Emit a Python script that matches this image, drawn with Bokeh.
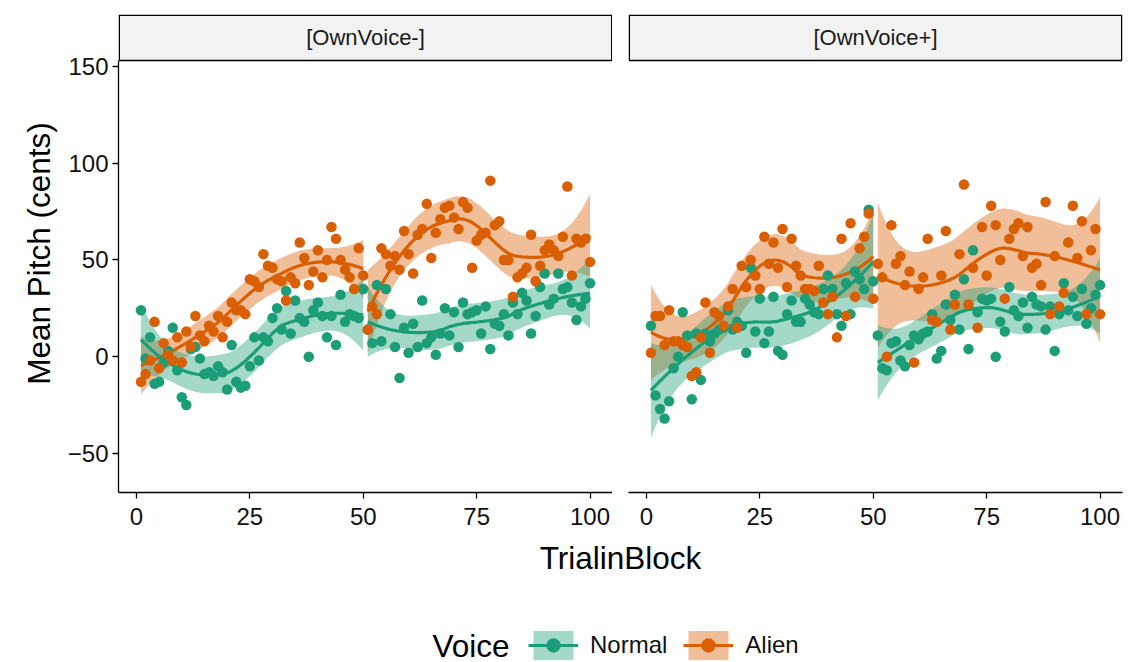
import numpy as np
from bokeh.plotting import figure
from bokeh.models import Range1d, Label, Legend, LegendItem, FixedTicker
from bokeh.layouts import row, column
from bokeh.core.properties import value
from bokeh.embed import file_html
from bokeh.resources import INLINE

FONT = "Liberation Sans"

trials = list(range(1, 101))
segments = [(1, 50), (51, 100)]
facets = ["[OwnVoice-]", "[OwnVoice+]"]
voices = ["Normal", "Alien"]
colors = {"Normal": "#1B9E77", "Alien": "#D95F02"}
x_ticks = [0, 25, 50, 75, 100]
y_ticks = [-50, 0, 50, 100, 150]

# Mean pitch (cents) per trial
left_normal = [24, -1, 10, -14, -13, -3, 3, 15, -7, -21, -25, 4, 5, -1, -9, -8, -10, -5, -8, -17,
               6, -13, -16, -15, -5, 10, -2, 10, 8, 20, 25, 14, 34, 12, 29, 20, 18, 0, 24, 28,
               21, 10, 21, 6, 32, 18, 22, 21, 20, 35,
               14, 7, 37, 8, 35, 22, 5, -11, 15, 2, 17, 5, 29, 7, 10, 1, 12, 25, 11, 23,
               5, 28, 22, 23, 24, 12, 26, 4, 17, 16, 22, 11, 28, 22, 33, 29, 12, 21, 36, 43,
               27, 30, 43, 35, 36, 28, 19, 26, 30, 38]
left_alien = [-13, -9, -2, 18, -6, 7, 1, -2, 10, -3, 13, 5, 21, 11, 8, 16, 13, 21, 10, 18,
              28, 24, 24, 22, 40, 39, 36, 53, 47, 46, 40, 39, 29, 41, 38, 59, 51, 37, 44, 55,
              41, 50, 67, 61, 50, 45, 41, 35, 56, 42,
              14, 26, 22, 56, 53, 47, 52, 45, 65, 53, 43, 63, 66, 79, 51, 64, 71, 77, 78, 72,
              66, 80, 77, 46, 60, 63, 64, 91, 68, 70, 50, 50, 31, 41, 43, 46, 63, 39, 47, 55,
              58, 55, 52, 62, 88, 42, 61, 59, 61, 49]
right_normal = [16, -20, -27, -32, -23, -6, 0, 23, 11, -22, 12, -12, 12, 8, 12, 14, 15, 24, 14, 18,
                16, 2, 46, 13, 30, 7, 13, 31, 3, 1, 22, 29, 18, 18, 30, 27, 23, 22, 35, 42,
                35, 22, 16, 38, 22, 44, 40, 35, 76, 39,
                11, -6, -7, 7, 8, -2, -5, 6, 11, 9, 12, 13, 22, -1, 3, 27, 19, 32, 14, 40,
                4, 55, 23, 30, 29, 30, 0, 18, 13, 36, 24, 21, 28, 15, 31, 27, 26, 14, 26, 3,
                22, 38, 24, 31, 21, 35, 17, 25, 32, 37]
right_alien = [2, 21, 21, 6, 24, 8, 8, 6, 5, -10, -8, 10, 28, 2, 23, 21, 16, 26, 35, 15,
               47, 36, 50, 42, 35, 62, 48, 59, 46, 66, 36, 61, 47, 42, 35, 35, 34, 47, 28, 22,
               31, 10, 61, 21, 69, 31, 56, 62, 74, 30,
               48, 41, 0, 68, 48, 52, 37, 44, -3, 35, 41, 61, 19, 18, 42, 65, 14, 27, 53, 89,
               27, 46, 15, 67, 42, 78, 68, 50, 30, 61, 66, 69, 52, 67, 46, 48, 37, 80, 22, 52,
               26, 33, 59, 78, 51, 70, 22, 55, 66, 22]

panel_data = [
    {"Normal": left_normal, "Alien": left_alien},
    {"Normal": right_normal, "Alien": right_alien},
]

# the picture's confidence bands are wider than a plain loess SE on the trial means
band_widen = 1.75

# panel geometry (pixels) and data limits
X0, X1 = -3.95, 104.95
Y0, Y1 = -70.2, 153.1
PANEL_W, PANEL_H, STRIP_H = 494, 432, 46
ux = (X1 - X0) / PANEL_W          # data units per pixel
uy = (Y1 - Y0) / PANEL_H
Y_STRIP = Y1 + STRIP_H * uy        # strip sits above the panel, inside the frame


def loess(x, y, xs, span=0.75):
    """Local quadratic regression (as in R's loess) with a 95% band."""
    x = np.asarray(x, float)
    y = np.asarray(y, float)
    n = len(x)
    q = int(np.floor(n * span))

    def op(x0):
        d = np.abs(x - x0)
        h = np.sort(d)[q - 1]
        w = np.clip(1 - (d / h) ** 3, 0, None) ** 3
        X = np.column_stack([np.ones(n), x - x0, (x - x0) ** 2])
        XtW = X.T * w
        return np.linalg.solve(XtW @ X, XtW)[0]

    L = np.array([op(v) for v in x])
    Ls = np.array([op(v) for v in xs])
    R = np.eye(n) - L
    M = R.T @ R
    d1 = np.trace(M)
    d2 = np.trace(M @ M)
    s = np.sqrt(np.sum((R @ y) ** 2) / d1)
    fit = Ls @ y
    se = s * np.sqrt(np.sum(Ls ** 2, axis=1))
    df = d1 ** 2 / d2
    z = 1.959964
    tq = (z + (z ** 3 + z) / (4 * df) + (5 * z ** 5 + 16 * z ** 3 + 3 * z) / (96 * df ** 2)
          + (3 * z ** 7 + 19 * z ** 5 + 17 * z ** 3 - 15 * z) / (384 * df ** 3))
    half = tq * se * band_widen
    return fit, fit - half, fit + half


def style_axis(ax):
    ax.minor_tick_line_color = None
    ax.major_tick_in = 0
    ax.major_tick_out = 6
    ax.axis_line_color = "black"
    ax.axis_line_width = 1.3
    ax.major_tick_line_color = "black"
    ax.major_tick_line_width = 1.3
    ax.major_label_text_font = FONT
    ax.major_label_text_font_size = "24px"
    ax.major_label_text_color = "#111111"


def make_panel(data, label, left):
    kw = dict(width=612 if left else 520, height=14 + STRIP_H + PANEL_H + 45,
              x_range=Range1d(X0, X1), y_range=Range1d(Y0, Y_STRIP),
              toolbar_location=None, output_backend="svg",
              min_border_top=14, min_border_bottom=45,
              min_border_left=118 if left else 16, min_border_right=0 if left else 10)
    if not left:
        kw["y_axis_location"] = None
    p = figure(**kw)
    p.grid.visible = False
    p.outline_line_color = None
    p.background_fill_color = "white"
    p.border_fill_color = "white"

    # facet strip
    p.quad(left=[X0 + 0.75 * ux], right=[X1 - 0.75 * ux], bottom=[Y1],
           top=[Y_STRIP - 0.75 * uy], fill_color="#F2F2F2", line_color="black",
           line_width=1.5)
    p.text(x=[(X0 + X1) / 2], y=[(Y1 + Y_STRIP) / 2], text=[label], text_font=value(FONT),
           text_font_size="22px", text_align="center", text_baseline="middle",
           text_color="#1A1A1A")

    fits = {}
    for v in voices:
        for a, b in segments:
            xs_seg = trials[a - 1:b]
            ys_seg = data[v][a - 1:b]
            xs = np.linspace(a, b, 80)
            fits[(v, a)] = (xs,) + loess(xs_seg, ys_seg, xs)
    # ribbons (orange first, green on top)
    for v in ["Alien", "Normal"]:
        for a, b in segments:
            xs, fit, lo, hi = fits[(v, a)]
            p.varea(x=xs, y1=lo, y2=hi, fill_color=colors[v], fill_alpha=0.4)
    for v in ["Alien", "Normal"]:
        for a, b in segments:
            xs, fit, lo, hi = fits[(v, a)]
            p.line(x=xs, y=fit, line_color=colors[v], line_width=3.2)
    for v in voices:
        p.scatter(x=trials, y=data[v], size=10.5, fill_color=colors[v], line_color=None)

    p.xaxis.ticker = FixedTicker(ticks=x_ticks)
    style_axis(p.xaxis[0])
    p.xaxis.major_label_standoff = 9
    if left:
        p.yaxis.ticker = FixedTicker(ticks=y_ticks)
        p.yaxis.bounds = (Y0, Y1)
        style_axis(p.yaxis[0])
        p.yaxis.major_label_standoff = 4
        p.yaxis.axis_label = "Mean Pitch (cents)"
        p.yaxis.axis_label_text_font = FONT
        p.yaxis.axis_label_text_font_size = "31.5px"
        p.yaxis.axis_label_text_font_style = "normal"
        p.yaxis.axis_label_text_color = "black"
        p.yaxis.axis_label_standoff = 8
    return p


panels = [make_panel(panel_data[0], facets[0], True),
          make_panel(panel_data[1], facets[1], False)]

# bottom area: shared x title and legend; the legend's proxy glyphs lie outside its view
bot = figure(width=1132, height=125, x_range=Range1d(-2, -1), y_range=Range1d(-2, -1),
             x_axis_location=None, y_axis_location=None, toolbar_location=None,
             output_backend="svg", min_border=0)
bot.grid.visible = False
bot.outline_line_color = None
bot.border_fill_color = "white"
items = []
for v in voices:
    ys = panel_data[0][v]
    va = bot.varea(x=trials, y1=ys, y2=ys, fill_color=colors[v], fill_alpha=0.4)
    ln = bot.line(x=trials, y=ys, line_color=colors[v], line_width=3.2)
    sc = bot.scatter(x=trials, y=ys, size=10.5, fill_color=colors[v], line_color=None)
    items.append(LegendItem(label=v, renderers=[va, ln, sc]))
legend = Legend(items=items, orientation="horizontal", location=(528, -1),
                glyph_width=50, glyph_height=36, label_text_font=FONT,
                label_text_font_size="24px", label_text_color="#111111",
                label_standoff=12, spacing=16, padding=0, margin=0,
                border_line_color=None, background_fill_alpha=0)
bot.add_layout(legend)
bot.add_layout(Label(x=432, y=17, x_units="screen", y_units="screen", text="Voice",
                     text_font=FONT, text_font_size="31.5px", text_baseline="middle",
                     text_align="left", text_color="black"))
bot.add_layout(Label(x=620, y=105, x_units="screen", y_units="screen", text="TrialinBlock",
                     text_font=FONT, text_font_size="31.5px", text_baseline="middle",
                     text_align="center", text_color="black"))

layout = column(row(panels[0], panels[1]), bot)

open("out.html", "w").write(file_html(layout, INLINE))
